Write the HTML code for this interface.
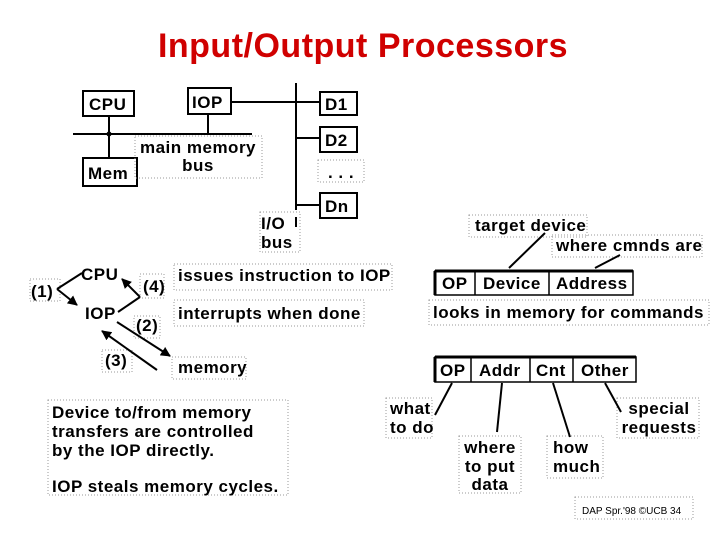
<!DOCTYPE html>
<html><head><style>
html,body{margin:0;padding:0;background:#fff;}
svg{display:block;font-family:"Liberation Sans",Arial,sans-serif;}
text{fill:#000;}
.t text{font-size:17px;font-weight:bold;letter-spacing:0.5px;}
</style></head><body>
<svg width="720" height="540" viewBox="0 0 720 540" xmlns="http://www.w3.org/2000/svg">
<defs><marker id="a" viewBox="0 0 10 10" refX="9" refY="5" markerWidth="5" markerHeight="5" orient="auto"><path d="M0,0L10,5L0,10z" fill="#000"/></marker></defs>
<text x="363" y="57" text-anchor="middle" style="font-size:34px;font-weight:bold;letter-spacing:0.5px;fill:#d00000">Input/Output Processors</text>
<g stroke="#000" stroke-width="2" fill="none">
<rect x="83" y="91" width="51" height="25"/>
<rect x="188" y="88" width="43" height="26"/>
<rect x="83" y="158" width="54" height="28"/>
<line x1="73" y1="134" x2="252" y2="134"/>
<line x1="109" y1="116" x2="109" y2="158"/>
<line x1="208" y1="114" x2="208" y2="134"/>
<line x1="231" y1="102" x2="296" y2="102"/>
<line x1="296" y1="83" x2="296" y2="210"/>
<line x1="296" y1="217" x2="296" y2="227"/>
<line x1="296" y1="102" x2="320" y2="102"/>
<line x1="296" y1="138" x2="320" y2="138"/>
<line x1="296" y1="205" x2="320" y2="205"/>
<rect x="320" y="92" width="37" height="23"/>
<rect x="320" y="127" width="37" height="25"/>
<rect x="320" y="193" width="37" height="25"/>
</g>
<circle cx="109" cy="134" r="2.5"/>
<g stroke="#999" stroke-width="1" stroke-dasharray="1,2" fill="none">
<rect x="135" y="136" width="127" height="42"/>
<rect x="318" y="160" width="46" height="22"/>
<rect x="260" y="212" width="40" height="40"/>
<rect x="30" y="279" width="30" height="22"/>
<rect x="140" y="274" width="24" height="24"/>
<rect x="174" y="264" width="218" height="26"/>
<rect x="134" y="316" width="26" height="22"/>
<rect x="174" y="300" width="190" height="26"/>
<rect x="102" y="350" width="30" height="22"/>
<rect x="172" y="357" width="74" height="22"/>
<rect x="48" y="400" width="240" height="95"/>
<rect x="469" y="215" width="118" height="22"/>
<rect x="552" y="235" width="150" height="22"/>
<rect x="429" y="300" width="280" height="25"/>
<rect x="386" y="398" width="46" height="40"/>
<rect x="459" y="436" width="62" height="57"/>
<rect x="547" y="436" width="56" height="42"/>
<rect x="617" y="398" width="82" height="40"/>
<rect x="575" y="497" width="118" height="22"/>
</g>
<g class="t">
<text x="89" y="110">CPU</text>
<text x="192" y="108">IOP</text>
<text x="88" y="179">Mem</text>
<text x="325" y="110">D1</text>
<text x="325" y="146">D2</text>
<text x="325" y="212">Dn</text>
<text x="341" y="178" text-anchor="middle">. . .</text>
<text x="198" y="153" text-anchor="middle">main memory</text>
<text x="198" y="171" text-anchor="middle">bus</text>
<text x="261" y="229">I/O</text>
<text x="261" y="248">bus</text>
<text x="31" y="297">(1)</text>
<text x="81" y="280">CPU</text>
<text x="85" y="319">IOP</text>
<text x="143" y="292">(4)</text>
<text x="136" y="331">(2)</text>
<text x="105" y="366">(3)</text>
<text x="178" y="281">issues instruction to IOP</text>
<text x="178" y="319">interrupts when done</text>
<text x="178" y="373">memory</text>
<text x="52" y="418">Device to/from memory</text>
<text x="52" y="437">transfers are controlled</text>
<text x="52" y="456">by the IOP directly.</text>
<text x="52" y="492">IOP steals memory cycles.</text>
<text x="475" y="231">target device</text>
<text x="556" y="251">where cmnds are</text>
<text x="433" y="318">looks in memory for commands</text>
<text x="390" y="414">what</text>
<text x="390" y="433">to do</text>
<text x="490" y="453" text-anchor="middle">where</text>
<text x="490" y="472" text-anchor="middle">to put</text>
<text x="490" y="490" text-anchor="middle">data</text>
<text x="553" y="453">how</text>
<text x="553" y="472">much</text>
<text x="659" y="414" text-anchor="middle">special</text>
<text x="659" y="433" text-anchor="middle">requests</text>
<text x="442" y="289">OP</text>
<text x="483" y="289">Device</text>
<text x="556" y="289">Address</text>
<text x="440" y="376">OP</text>
<text x="479" y="376">Addr</text>
<text x="536" y="376">Cnt</text>
<text x="581" y="376">Other</text>
</g>
<text x="582" y="514" style="font-size:10px">DAP Spr.'98 ©UCB 34</text>
<g stroke="#000" stroke-width="2" fill="none">
<rect x="435" y="271" width="198" height="24" stroke-width="1.5"/>
<line x1="435" y1="271" x2="633" y2="271" stroke-width="3"/>
<line x1="435" y1="271" x2="435" y2="295" stroke-width="3"/>
<line x1="475" y1="271" x2="475" y2="295" stroke-width="1.5"/>
<line x1="549" y1="271" x2="549" y2="295" stroke-width="1.5"/>
<rect x="435" y="357" width="201" height="25" stroke-width="1.5"/>
<line x1="435" y1="357" x2="636" y2="357" stroke-width="3"/>
<line x1="435" y1="357" x2="435" y2="382" stroke-width="3"/>
<line x1="471" y1="357" x2="471" y2="382" stroke-width="1.5"/>
<line x1="530" y1="357" x2="530" y2="382" stroke-width="1.5"/>
<line x1="573" y1="357" x2="573" y2="382" stroke-width="1.5"/>
<line x1="509" y1="268" x2="545" y2="233"/>
<line x1="595" y1="268" x2="620" y2="255"/>
<line x1="452" y1="383" x2="435" y2="415"/>
<line x1="502" y1="383" x2="497" y2="432"/>
<line x1="553" y1="383" x2="570" y2="437"/>
<line x1="605" y1="383" x2="621" y2="412"/>
<polyline points="82,273 57,289"/>
<line x1="57" y1="289" x2="77" y2="305" marker-end="url(#a)"/>
<polyline points="118,312 140,297"/>
<line x1="140" y1="297" x2="122" y2="279" marker-end="url(#a)"/>
<line x1="117" y1="322" x2="170" y2="356" marker-end="url(#a)"/>
<line x1="157" y1="370" x2="102" y2="331" marker-end="url(#a)"/>
</g>
</svg>
</body></html>
